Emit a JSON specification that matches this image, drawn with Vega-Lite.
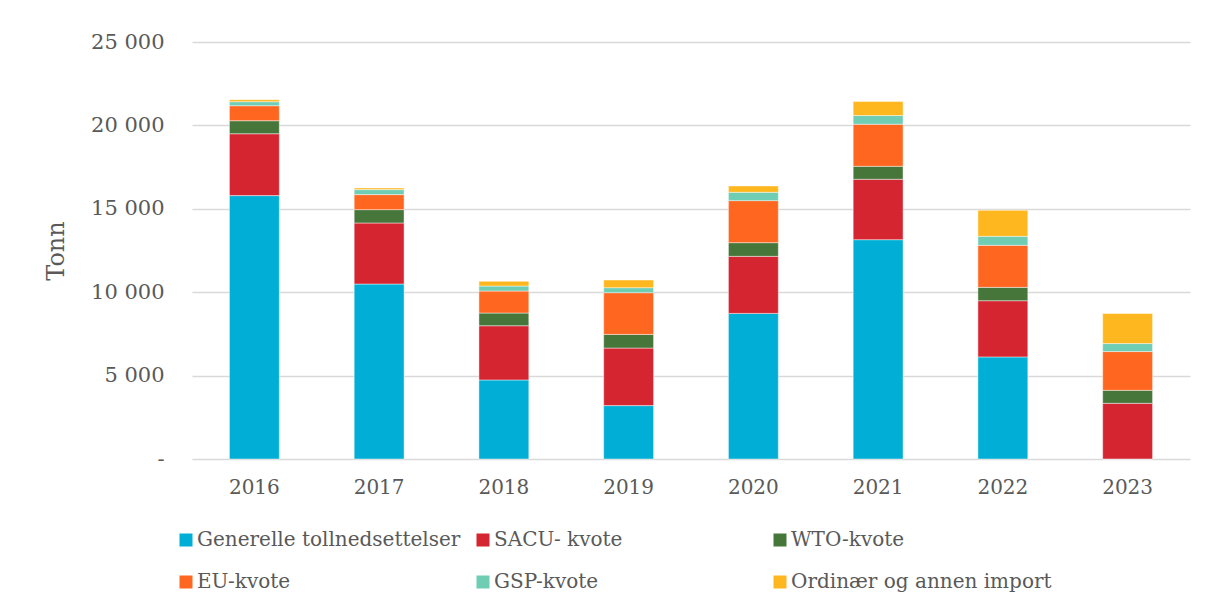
{
  "$schema": "https://vega.github.io/schema/vega-lite/v6.json",
  "width": 998,
  "height": 417,
  "autosize": {"type": "none"},
  "padding": {"left": 192, "top": 42, "right": 18, "bottom": 151},
  "background": "#ffffff",
  "config": {
    "view": {"stroke": null},
    "font": "DejaVu Serif",
    "axis": {"labelFont": "DejaVu Serif", "titleFont": "DejaVu Serif", "labelColor": "#595959", "titleColor": "#595959"},
    "legend": {"labelFont": "DejaVu Serif", "labelColor": "#595959"}
  },
  "data": {
    "values": [
      {"year": "2016", "series": "Generelle tollnedsettelser", "k": 1, "value": 15790},
      {"year": "2016", "series": "SACU- kvote", "k": 2, "value": 3710},
      {"year": "2016", "series": "WTO-kvote", "k": 3, "value": 780},
      {"year": "2016", "series": "EU-kvote", "k": 4, "value": 900},
      {"year": "2016", "series": "GSP-kvote", "k": 5, "value": 240},
      {"year": "2016", "series": "Ordinær og annen import", "k": 6, "value": 120},
      {"year": "2017", "series": "Generelle tollnedsettelser", "k": 1, "value": 10490},
      {"year": "2017", "series": "SACU- kvote", "k": 2, "value": 3660},
      {"year": "2017", "series": "WTO-kvote", "k": 3, "value": 800},
      {"year": "2017", "series": "EU-kvote", "k": 4, "value": 900},
      {"year": "2017", "series": "GSP-kvote", "k": 5, "value": 300},
      {"year": "2017", "series": "Ordinær og annen import", "k": 6, "value": 100},
      {"year": "2018", "series": "Generelle tollnedsettelser", "k": 1, "value": 4740},
      {"year": "2018", "series": "SACU- kvote", "k": 2, "value": 3250},
      {"year": "2018", "series": "WTO-kvote", "k": 3, "value": 760},
      {"year": "2018", "series": "EU-kvote", "k": 4, "value": 1320},
      {"year": "2018", "series": "GSP-kvote", "k": 5, "value": 300},
      {"year": "2018", "series": "Ordinær og annen import", "k": 6, "value": 280},
      {"year": "2019", "series": "Generelle tollnedsettelser", "k": 1, "value": 3200},
      {"year": "2019", "series": "SACU- kvote", "k": 2, "value": 3450},
      {"year": "2019", "series": "WTO-kvote", "k": 3, "value": 820},
      {"year": "2019", "series": "EU-kvote", "k": 4, "value": 2500},
      {"year": "2019", "series": "GSP-kvote", "k": 5, "value": 300},
      {"year": "2019", "series": "Ordinær og annen import", "k": 6, "value": 460},
      {"year": "2020", "series": "Generelle tollnedsettelser", "k": 1, "value": 8730},
      {"year": "2020", "series": "SACU- kvote", "k": 2, "value": 3420},
      {"year": "2020", "series": "WTO-kvote", "k": 3, "value": 820},
      {"year": "2020", "series": "EU-kvote", "k": 4, "value": 2520},
      {"year": "2020", "series": "GSP-kvote", "k": 5, "value": 500},
      {"year": "2020", "series": "Ordinær og annen import", "k": 6, "value": 380},
      {"year": "2021", "series": "Generelle tollnedsettelser", "k": 1, "value": 13150},
      {"year": "2021", "series": "SACU- kvote", "k": 2, "value": 3620},
      {"year": "2021", "series": "WTO-kvote", "k": 3, "value": 780},
      {"year": "2021", "series": "EU-kvote", "k": 4, "value": 2520},
      {"year": "2021", "series": "GSP-kvote", "k": 5, "value": 520},
      {"year": "2021", "series": "Ordinær og annen import", "k": 6, "value": 840},
      {"year": "2022", "series": "Generelle tollnedsettelser", "k": 1, "value": 6120},
      {"year": "2022", "series": "SACU- kvote", "k": 2, "value": 3370},
      {"year": "2022", "series": "WTO-kvote", "k": 3, "value": 800},
      {"year": "2022", "series": "EU-kvote", "k": 4, "value": 2520},
      {"year": "2022", "series": "GSP-kvote", "k": 5, "value": 540},
      {"year": "2022", "series": "Ordinær og annen import", "k": 6, "value": 1560},
      {"year": "2023", "series": "Generelle tollnedsettelser", "k": 1, "value": 0},
      {"year": "2023", "series": "SACU- kvote", "k": 2, "value": 3340},
      {"year": "2023", "series": "WTO-kvote", "k": 3, "value": 780},
      {"year": "2023", "series": "EU-kvote", "k": 4, "value": 2320},
      {"year": "2023", "series": "GSP-kvote", "k": 5, "value": 480},
      {"year": "2023", "series": "Ordinær og annen import", "k": 6, "value": 1800}
    ]
  },
  "mark": {"type": "bar", "stroke": "#ffffff", "strokeWidth": 0.75, "strokeOpacity": 0.6},
  "encoding": {
    "x": {
      "field": "year",
      "type": "ordinal",
      "scale": {"paddingInner": 0.6, "paddingOuter": 0.3},
      "axis": {"title": null, "labelAngle": 0, "labelFontSize": 20, "labelPadding": 18, "ticks": false, "domain": false, "grid": false}
    },
    "y": {
      "field": "value",
      "type": "quantitative",
      "stack": "zero",
      "scale": {"domain": [0, 25000], "nice": false},
      "axis": {
        "title": "Tonn",
        "titleFontSize": 24,
        "titleFontWeight": "normal",
        "titlePadding": 22,
        "values": [0, 5000, 10000, 15000, 20000, 25000],
        "labelExpr": "datum.value == 0 ? '-' : replace(format(datum.value, ','), ',', ' ')",
        "labelFontSize": 21,
        "labelPadding": 28,
        "ticks": false,
        "domain": false,
        "grid": true,
        "gridColor": "#d9d9d9",
        "gridWidth": 1.5
      }
    },
    "color": {
      "field": "series",
      "type": "nominal",
      "scale": {
        "domain": ["Generelle tollnedsettelser", "SACU- kvote", "WTO-kvote", "EU-kvote", "GSP-kvote", "Ordinær og annen import"],
        "range": ["#00AED6", "#D52530", "#47763A", "#FF6620", "#6FCDB4", "#FFB71F"]
      },
      "legend": {
        "title": null,
        "orient": "none",
        "legendX": -16,
        "legendY": 488,
        "direction": "horizontal",
        "columns": 3,
        "gridAlign": "all",
        "columnPadding": 12,
        "rowPadding": 22,
        "symbolType": "square",
        "symbolSize": 169,
        "symbolStrokeWidth": 0,
        "labelFontSize": 20,
        "labelOffset": 1,
        "labelLimit": 400
      }
    },
    "order": {"field": "k", "type": "quantitative", "sort": "ascending"}
  }
}
